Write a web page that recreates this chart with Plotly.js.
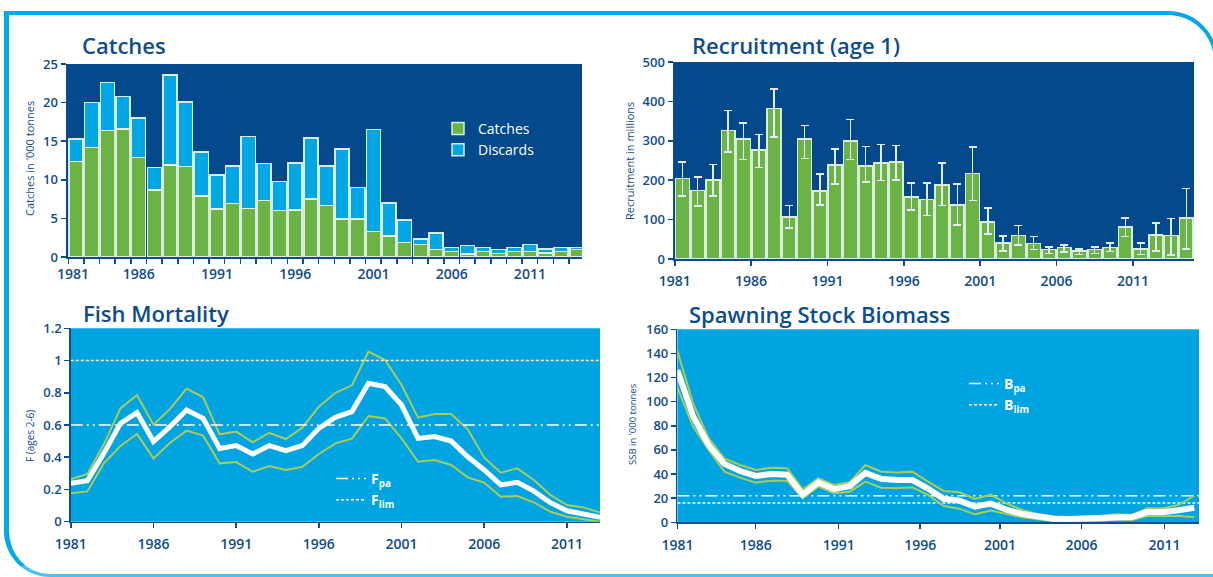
<!DOCTYPE html>
<html>
<head>
<meta charset="utf-8">
<script src="https://cdn.plot.ly/plotly-3.0.1.min.js"></script>
<style>
  html, body { margin:0; padding:0; background:#ffffff; }
  #wrap { position:relative; width:1213px; height:577px; overflow:hidden; }
  #frame { position:absolute; left:4px; top:11px; width:1214px; height:566px; box-sizing:border-box;
           border-top:4px solid #00a9e6; border-left:5px solid #00a9e6; border-right:4px solid #00a9e6;
           border-bottom:3px solid #4cc3ee; border-radius:0 50px 0 46px; }
  #chart { position:absolute; left:0; top:0; width:1213px; height:577px; }
</style>
</head>
<body>
<div id="wrap">
  <div id="frame"></div>
  <div id="chart"></div>
</div>
<script>
// ---------------- DATA ----------------
const catchYears = [1981,1982,1983,1984,1985,1986,1987,1988,1989,1990,1991,1992,1993,1994,1995,1996,1997,1998,1999,2000,2001,2002,2003,2004,2005,2006,2007,2008,2009,2010,2011,2012,2013];
const catches  = [12.4,14.2,16.4,16.6,12.9,8.7,11.9,11.7,7.9,6.2,6.9,6.3,7.3,6.0,6.1,7.5,6.7,4.9,4.9,3.3,2.7,1.9,1.6,1.0,0.7,0.4,0.7,0.45,0.7,0.7,0.55,0.7,0.95];
const discards = [2.9,5.8,6.2,4.2,5.1,2.9,11.7,8.4,5.7,4.4,4.9,9.3,4.8,3.8,6.1,7.9,5.1,9.1,4.1,13.2,4.3,2.9,0.7,2.1,0.5,1.1,0.5,0.5,0.55,0.9,0.5,0.55,0.3];

const recYears = [1981,1982,1983,1984,1985,1986,1987,1988,1989,1990,1991,1992,1993,1994,1995,1996,1997,1998,1999,2000,2001,2002,2003,2004,2005,2006,2007,2008,2009,2010,2011,2012,2013,2014];
const recruitment = [204,174,201,326,305,277,382,107,304,172,239,300,236,244,246,157,151,188,137,217,94,41,60,39,24,29,20,24,29,81,25,61,60,104];
const recHigh     = [246,208,240,377,345,316,431,136,339,216,279,354,286,290,288,193,193,244,190,284,129,59,85,57,30,36,26,30,41,104,41,91,103,179];
const recLow      = [160,135,160,272,252,232,310,79,255,137,191,252,195,199,200,124,110,136,86,149,63,20,36,24,14,18,12,14,19,57,12,20,10,26];

const fYears = [1981,1982,1983,1984,1985,1986,1987,1988,1989,1990,1991,1992,1993,1994,1995,1996,1997,1998,1999,2000,2001,2002,2003,2004,2005,2006,2007,2008,2009,2010,2011,2012,2013];
const fMean = [0.238,0.254,0.424,0.61,0.677,0.497,0.59,0.693,0.641,0.455,0.472,0.42,0.472,0.441,0.472,0.579,0.648,0.683,0.859,0.838,0.724,0.517,0.528,0.50,0.403,0.321,0.228,0.244,0.19,0.118,0.068,0.048,0.027];
const fHigh = [0.263,0.296,0.48,0.703,0.786,0.602,0.70,0.826,0.772,0.542,0.559,0.492,0.552,0.513,0.583,0.714,0.80,0.846,1.055,1.003,0.848,0.646,0.668,0.668,0.573,0.397,0.304,0.331,0.259,0.166,0.103,0.089,0.056];
const fLow  = [0.176,0.188,0.362,0.47,0.544,0.393,0.49,0.565,0.534,0.362,0.370,0.31,0.346,0.321,0.341,0.42,0.486,0.515,0.656,0.641,0.517,0.372,0.383,0.352,0.275,0.242,0.155,0.159,0.12,0.062,0.031,0.014,0.0];
const Fpa = 0.6, Flim = 1.0;

const ssbYears = [1981,1982,1983,1984,1985,1986,1987,1988,1989,1990,1991,1992,1993,1994,1995,1996,1997,1998,1999,2000,2001,2002,2003,2004,2005,2006,2007,2008,2009,2010,2011,2012,2013,2014];
const ssb     = [126,88,64,48.4,42.5,38.5,40,39.5,23,33,27.5,30,41,36,35,35,28,19.5,18,13,15.5,10.5,7,4.5,3,2.8,3,3.5,4.5,4.3,8.5,8.5,10,12];
const ssbHigh = [142,98.6,69.6,53,47.5,43.4,45.3,44.8,27.4,36.5,31,33.2,47.5,42,41.2,42,33.7,26,24.9,19.3,22.9,15.7,10.2,6.9,5.0,4.4,4.7,5.2,6.6,6.1,11.6,11.6,14.4,22];
const ssbLow  = [111.6,79.3,60,42,37,32.9,34.5,34.5,19.9,29.6,24,25.4,33.7,28.7,28.2,29,22.7,13.5,11.3,6.6,9.7,7.2,4.1,2.5,1.1,0.6,0.6,1.1,2.5,1.9,5.2,5.5,5.2,4.2];
const Bpa = 22, Blim = 16;

const tickLabels = ['1981','1986','1991','1996','2001','2006','2011'];

// ---------------- STYLE ----------------
const W = 1213, H = 577;
const NAVY = '#0f4c8b', DARKBG = '#03498b', LIGHTBG = '#00a4e0';
const GREEN = '#6cb346', BLUE = '#00a7e2', BAND = '#a8cc5c';
const FONT = 'Open Sans, Lato, sans-serif';
const px = x => x / W, py = y => 1 - y / H;

function yAxis(top, bottom, range, dtick) {
  return { domain:[py(bottom), py(top)], range, dtick, tick0:0, tickmode:'linear',
    showgrid:false, zeroline:false, showline:true, linecolor:NAVY, linewidth:1.5,
    ticks:'outside', ticklen:5, tickwidth:1.5, tickcolor:NAVY,
    tickfont:{family:FONT, size:13, color:NAVY, weight:600}, fixedrange:true };
}
function xAxis(left, right, range, tickvals, extra) {
  return Object.assign({ domain:[px(left), px(right)], range, tickmode:'array', tickvals, ticktext:tickLabels,
    showgrid:false, zeroline:false, showline:true, linecolor:NAVY, linewidth:1.5,
    ticks:'outside', ticklen:5, tickwidth:1.5, tickcolor:NAVY, ticklabelstandoff:4,
    tickfont:{family:FONT, size:14, color:NAVY, weight:600}, fixedrange:true }, extra || {});
}
const labelYears = tickLabels.map(Number);

const barLine = {color:'rgba(228,242,228,0.95)', width:1.5};
const traces = [
  {type:'bar', x:catchYears, y:catches, name:'Catches', marker:{color:GREEN, line:barLine}, width:0.9,
   xaxis:'x', yaxis:'y', legend:'legend'},
  {type:'bar', x:catchYears, y:discards, name:'Discards', marker:{color:BLUE, line:barLine}, width:0.9,
   xaxis:'x', yaxis:'y', legend:'legend'},
  {type:'bar', x:recYears, y:recruitment, name:'Recruitment', marker:{color:GREEN, line:barLine}, width:0.9,
   error_y:{type:'data', symmetric:false,
     array: recHigh.map((v,i)=>v-recruitment[i]), arrayminus: recruitment.map((v,i)=>v-recLow[i]),
     color:'#e4ecf4', thickness:1.5, width:4},
   xaxis:'x2', yaxis:'y2', showlegend:false},
  // Fish mortality
  {type:'scatter', mode:'lines', x:fYears, y:fHigh, line:{color:BAND, width:2}, xaxis:'x3', yaxis:'y3', showlegend:false},
  {type:'scatter', mode:'lines', x:fYears, y:fLow, line:{color:BAND, width:2}, xaxis:'x3', yaxis:'y3', showlegend:false},
  {type:'scatter', mode:'lines', x:[fYears[0], fYears[fYears.length-1]], y:[Fpa, Fpa], name:'F<sub>pa</sub>',
   line:{color:'#ffffff', width:1.5, dash:'12px,4px,2px,4px,2px,4px'}, xaxis:'x3', yaxis:'y3', legend:'legend2'},
  {type:'scatter', mode:'lines', x:[fYears[0], fYears[fYears.length-1]], y:[Flim, Flim], name:'F<sub>lim</sub>',
   line:{color:'#ffffff', width:1.5, dash:'3px,2px'}, xaxis:'x3', yaxis:'y3', legend:'legend2'},
  {type:'scatter', mode:'lines', x:fYears, y:fMean, line:{color:'#ffffff', width:5}, xaxis:'x3', yaxis:'y3', showlegend:false},
  // SSB
  {type:'scatter', mode:'lines', x:[1981, 2014.3], y:[Bpa, Bpa], name:'B<sub>pa</sub>',
   line:{color:'#ffffff', width:1.5, dash:'12px,4px,2px,4px,2px,4px'}, xaxis:'x4', yaxis:'y4', legend:'legend3'},
  {type:'scatter', mode:'lines', x:[1981, 2014.3], y:[Blim, Blim], name:'B<sub>lim</sub>',
   line:{color:'#ffffff', width:1.5, dash:'3px,2px'}, xaxis:'x4', yaxis:'y4', legend:'legend3'},
  {type:'scatter', mode:'lines', x:ssbYears, y:ssbHigh, line:{color:BAND, width:2}, xaxis:'x4', yaxis:'y4', showlegend:false},
  {type:'scatter', mode:'lines', x:ssbYears, y:ssbLow, line:{color:BAND, width:2}, xaxis:'x4', yaxis:'y4', showlegend:false},
  {type:'scatter', mode:'lines', x:ssbYears, y:ssb, line:{color:'#ffffff', width:6}, xaxis:'x4', yaxis:'y4', showlegend:false}
];

const catchTickPos = labelYears.map((y,i) => i === 0 ? 1980.8 : y - 1);
const recTickPos = labelYears.map(y => y - 0.5);
const ssbTickPos = [1981.0, 1986.0, 1991.3, 1996.5, 2001.6, 2006.8, 2012.1];

function bg(n, color) {
  const s = n === 1 ? '' : n;
  return {type:'rect', xref:'x'+s+' domain', yref:'y'+s+' domain', x0:0, x1:1, y0:0, y1:1,
          fillcolor:color, line:{width:0}, layer:'below'};
}
function title(text, x, y) {
  return {text, xref:'paper', yref:'paper', x:px(x), y:py(y), xanchor:'left', yanchor:'middle', showarrow:false,
          font:{family:FONT, size:22, color:NAVY, weight:600}};
}
function ytitle(text, x, y, size) {
  return {text, xref:'paper', yref:'paper', x:px(x), y:py(y), xanchor:'center', yanchor:'middle', showarrow:false,
          textangle:-90, font:{family:FONT, size, color:NAVY}};
}
const legFont = {family:FONT, size:14, color:'#ffffff'};

const layout = {
  width:W, height:H, margin:{l:0, r:0, t:0, b:0},
  paper_bgcolor:'rgba(0,0,0,0)', plot_bgcolor:'rgba(0,0,0,0)',
  barmode:'stack', bargap:0, showlegend:true,
  xaxis: xAxis(67, 582, [1980.42, 2013.33], catchTickPos,
           {ticks:'', minor:{ticks:'outside', ticklen:5, tickwidth:1.5, tickcolor:NAVY, tick0:1980.5, dtick:1}}),
  yaxis: yAxis(64, 257, [0, 25], 5),
  xaxis2: xAxis(674, 1194, [1980.45, 2014.5], recTickPos, {anchor:'y2'}),
  yaxis2: Object.assign(yAxis(62, 259, [0, 500], 100), {anchor:'x2'}),
  xaxis3: xAxis(70.8, 600, [1981, 2013], labelYears, {anchor:'y3'}),
  yaxis3: Object.assign(yAxis(328.3, 521.7, [0, 1.2], 0.2), {anchor:'x3'}),
  xaxis4: xAxis(677.4, 1199, [1981, 2014.3], ssbTickPos, {anchor:'y4'}),
  yaxis4: Object.assign(yAxis(329.3, 522.3, [0, 160], 20), {anchor:'x4'}),
  shapes:[bg(1, DARKBG), bg(2, DARKBG), bg(3, LIGHTBG), bg(4, LIGHTBG)],
  annotations:[
    title('Catches', 80, 45), title('Recruitment (age 1)', 690, 45),
    title('Fish Mortality', 81, 313), title('Spawning Stock Biomass', 687, 314),
    ytitle("Catches in '000 tonnes", 29, 159, 11),
    ytitle('Recruitment in millions', 629, 161, 11),
    ytitle('F (ages 2-6)', 30, 436, 10),
    ytitle("SSB in '000 tonnes", 632, 424, 9.5)
  ],
  legend: {x:px(438), y:py(113), xanchor:'left', yanchor:'top', bgcolor:'rgba(0,0,0,0)', font:legFont, traceorder:'normal', itemclick:false, itemdoubleclick:false},
  legend2:{x:px(331), y:py(463), xanchor:'left', yanchor:'top', bgcolor:'rgba(0,0,0,0)', font:Object.assign({}, legFont, {weight:700}), traceorder:'normal', itemclick:false, itemdoubleclick:false},
  legend3:{x:px(964), y:py(368), xanchor:'left', yanchor:'top', bgcolor:'rgba(0,0,0,0)', font:Object.assign({}, legFont, {weight:700}), traceorder:'normal', itemclick:false, itemdoubleclick:false}
};

Plotly.newPlot('chart', traces, layout, {displayModeBar:false, staticPlot:true});
</script>
</body>
</html>
